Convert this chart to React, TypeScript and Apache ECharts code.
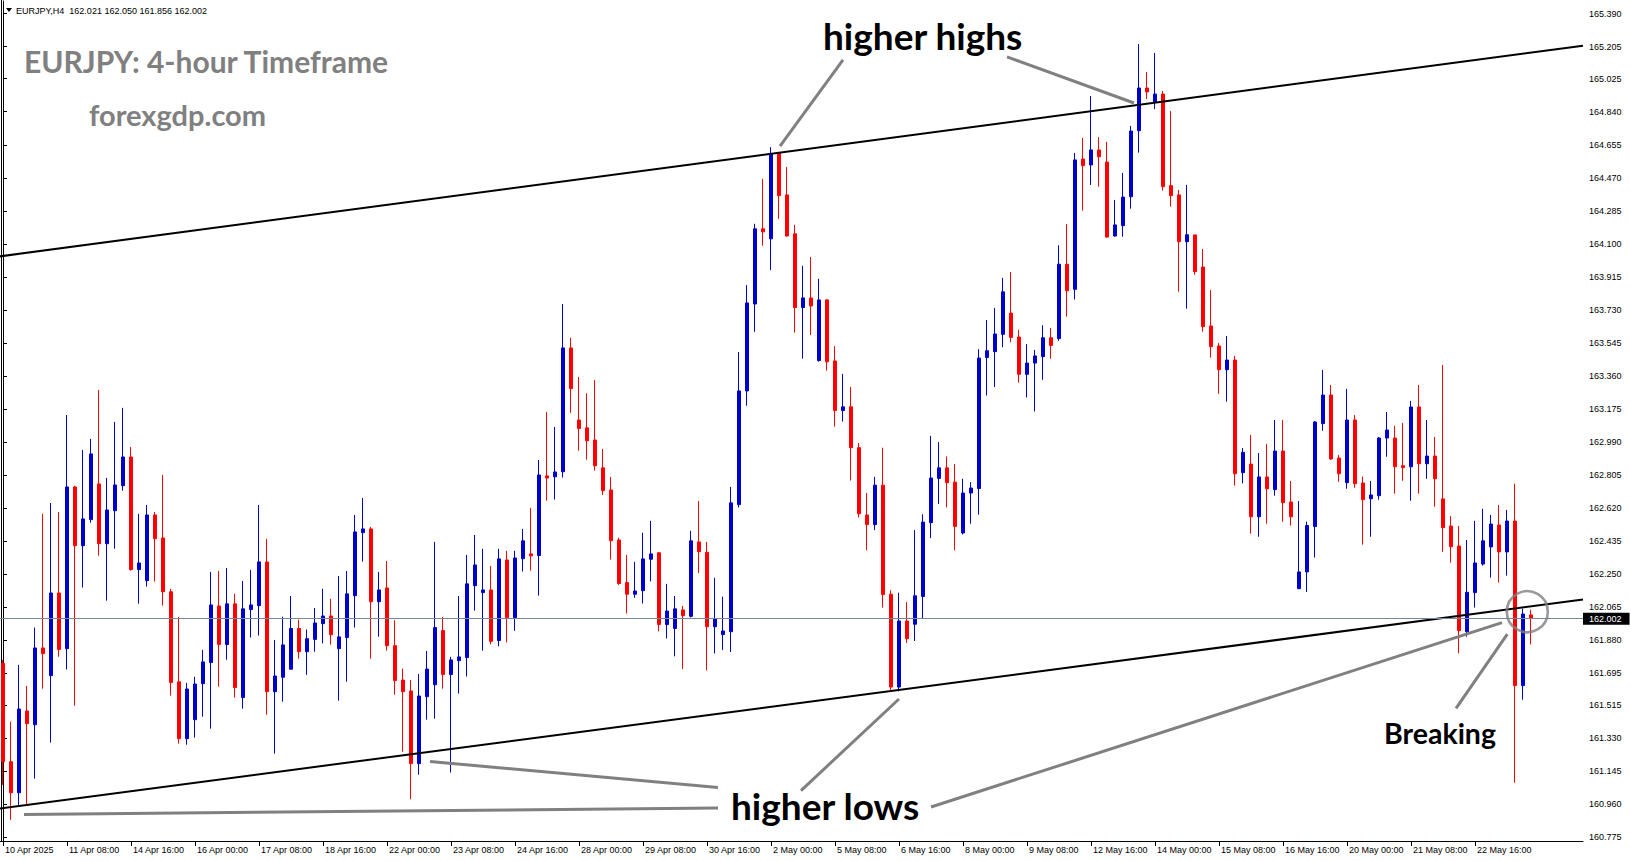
import React, { useEffect, useRef } from 'react';
import * as echarts from 'echarts';

// ---- tick labels ----
const timeLabels = [
  '10 Apr 2025', '11 Apr 08:00', '14 Apr 16:00', '16 Apr 00:00', '17 Apr 08:00', '18 Apr 16:00',
  '22 Apr 00:00', '23 Apr 08:00', '24 Apr 16:00', '28 Apr 00:00', '29 Apr 08:00', '30 Apr 16:00',
  '2 May 00:00', '5 May 08:00', '6 May 16:00', '8 May 00:00', '9 May 08:00', '12 May 16:00',
  '14 May 00:00', '15 May 08:00', '16 May 16:00', '20 May 00:00', '21 May 08:00', '22 May 16:00',
];
const priceTicks = [
  165.39, 165.205, 165.025, 164.84, 164.655, 164.47, 164.285, 164.1, 163.915, 163.73, 163.545,
  163.36, 163.175, 162.99, 162.805, 162.62, 162.435, 162.25, 162.065, 161.88, 161.695, 161.515,
  161.33, 161.145, 160.96, 160.775,
];
const yMin = 160.7545;
const yMax = 165.4604;
const slotCount = 198; // bars plus right shift
const barsPerLabel = 8;

// ---- candle values (EURJPY H4) ----
const opens = [
  161.750, 161.199, 161.025, 161.483, 161.406, 161.836, 161.681, 162.144, 161.832, 162.738,
  162.409, 162.555, 162.755, 162.420, 162.605, 162.745, 162.906, 162.275, 162.213, 162.581,
  162.452, 162.151, 161.646, 161.328, 161.434, 161.636, 161.754, 162.071, 161.855, 162.083,
  161.558, 162.051, 162.073, 162.318, 161.591, 161.672, 161.717, 161.945, 161.815, 161.884,
  161.972, 162.015, 161.832, 161.894, 162.129, 162.482, 162.503, 162.095, 162.172, 161.849,
  161.656, 161.595, 161.188, 161.563, 161.630, 161.934, 161.687, 161.765, 161.782, 162.185,
  162.146, 162.161, 161.878, 162.329, 162.006, 162.336, 162.363, 162.354, 162.800, 162.795,
  162.823, 163.517, 163.113, 163.069, 163.001, 162.845, 162.721, 162.441, 162.203, 162.137,
  162.157, 162.333, 162.369, 161.967, 161.945, 162.049, 162.013, 162.430, 162.372, 161.955,
  161.911, 161.927, 162.639, 163.276, 163.763, 164.184, 164.128, 164.608, 164.374, 164.156,
  163.743, 163.797, 163.446, 163.786, 163.444, 163.166, 163.187, 162.958, 162.581, 162.527,
  162.748, 162.137, 161.617, 161.987, 161.969, 162.124, 162.538, 162.786, 162.845, 162.765,
  162.480, 162.704, 162.729, 163.463, 163.496, 163.593, 163.712, 163.578, 163.369, 163.432,
  163.468, 163.574, 163.569, 163.986, 163.845, 164.575, 164.542, 164.626, 164.558, 164.144,
  164.202, 164.364, 164.734, 164.973, 164.895, 164.939, 164.426, 164.374, 164.112, 164.150,
  163.970, 163.640, 163.528, 163.395, 163.449, 162.818, 162.866, 162.571, 162.794, 162.723,
  162.939, 162.654, 162.168, 162.262, 162.516, 163.093, 163.253, 162.900, 162.762, 163.113,
  162.760, 162.672, 162.689, 163.012, 163.012, 162.857, 162.851, 163.186, 162.868, 162.911,
  162.671, 162.519, 162.407, 161.927, 162.146, 162.306, 162.402, 162.525, 162.374, 162.547,
  161.625, 162.021,
];
const highs = [
  161.769, 161.423, 161.741, 161.623, 161.950, 162.587, 162.648, 162.598, 163.141, 162.744,
  162.945, 163.007, 163.281, 162.788, 163.102, 163.181, 162.962, 162.587, 162.637, 162.598,
  162.805, 162.167, 162.010, 161.640, 161.674, 161.825, 162.262, 162.267, 162.284, 162.139,
  162.211, 162.273, 162.637, 162.447, 161.881, 162.011, 162.127, 161.995, 161.939, 162.060,
  162.167, 162.111, 162.239, 162.267, 162.581, 162.676, 162.514, 162.262, 162.323, 161.991,
  161.720, 161.656, 161.690, 161.819, 162.430, 162.010, 161.786, 162.127, 162.357, 162.469,
  162.391, 162.295, 162.391, 162.380, 162.380, 162.503, 162.620, 162.889, 163.158, 163.074,
  163.763, 163.573, 163.354, 163.263, 163.337, 162.951, 162.794, 162.453, 162.357, 162.318,
  162.481, 162.548, 162.374, 162.195, 162.127, 162.071, 162.492, 162.659, 162.430, 162.229,
  162.123, 162.738, 163.494, 163.869, 164.212, 164.464, 164.642, 164.614, 164.530, 164.206,
  163.977, 164.026, 163.904, 163.790, 163.527, 163.371, 163.298, 162.984, 162.704, 162.794,
  162.958, 162.159, 162.145, 162.093, 162.496, 162.585, 163.024, 162.989, 162.909, 162.866,
  162.784, 162.765, 163.510, 163.673, 163.741, 163.909, 163.942, 163.618, 163.538, 163.505,
  163.644, 163.628, 164.092, 164.210, 164.609, 164.693, 164.928, 164.698, 164.671, 164.346,
  164.497, 164.760, 165.219, 165.063, 165.169, 164.956, 164.844, 164.402, 164.430, 164.150,
  164.071, 163.841, 163.544, 163.584, 163.472, 162.956, 163.029, 162.928, 162.979, 163.113,
  163.113, 162.771, 162.659, 162.544, 163.107, 163.393, 163.309, 162.917, 163.287, 163.141,
  162.796, 162.771, 163.018, 163.158, 163.080, 163.096, 163.220, 163.309, 163.113, 163.018,
  163.421, 162.575, 162.519, 162.441, 162.548, 162.615, 162.581, 162.637, 162.609, 162.756,
  162.056, 162.050,
];
const lows = [
  161.069, 160.873, 160.947, 160.957, 161.104, 161.608, 161.306, 161.787, 161.715, 161.513,
  162.174, 162.538, 162.353, 162.101, 162.392, 162.717, 162.269, 162.084, 162.180, 162.208,
  162.073, 161.569, 161.300, 161.294, 161.334, 161.451, 161.384, 161.619, 161.770, 161.558,
  161.496, 161.894, 161.905, 161.462, 161.244, 161.535, 161.715, 161.776, 161.685, 161.815,
  161.862, 161.854, 161.541, 161.647, 161.950, 162.320, 161.776, 161.899, 161.821, 161.574,
  161.255, 160.989, 161.126, 161.434, 161.440, 161.608, 161.138, 161.580, 161.676, 162.045,
  161.821, 161.856, 161.845, 161.867, 161.932, 162.264, 162.269, 162.129, 162.661, 162.667,
  162.791, 163.153, 162.941, 162.891, 162.829, 162.693, 162.331, 162.189, 162.029, 162.117,
  162.085, 162.209, 161.929, 161.889, 161.789, 161.718, 162.007, 162.256, 161.710, 161.805,
  161.825, 161.813, 162.623, 163.193, 163.607, 164.089, 163.953, 164.240, 164.140, 163.603,
  163.457, 163.589, 163.440, 163.390, 163.076, 163.104, 162.774, 162.567, 162.383, 162.496,
  162.062, 161.600, 161.593, 161.864, 161.875, 162.001, 162.452, 162.643, 162.624, 162.383,
  162.472, 162.532, 162.583, 163.250, 163.298, 163.521, 163.548, 163.322, 163.239, 163.161,
  163.338, 163.456, 163.557, 163.692, 163.788, 164.286, 164.430, 164.420, 164.134, 164.140,
  164.140, 164.297, 164.611, 164.911, 164.855, 164.398, 164.308, 163.832, 163.737, 163.927,
  163.608, 163.462, 163.260, 163.216, 162.745, 162.758, 162.476, 162.459, 162.532, 162.689,
  162.543, 162.521, 162.168, 162.150, 162.342, 163.053, 162.889, 162.767, 162.728, 162.734,
  162.415, 162.459, 162.667, 162.907, 162.700, 162.773, 162.661, 162.700, 162.784, 162.627,
  162.375, 162.314, 161.806, 161.899, 162.062, 162.297, 162.230, 162.202, 162.241, 161.081,
  161.546, 161.856,
];
const closes = [
  161.199, 161.025, 161.494, 161.412, 161.836, 161.804, 162.144, 161.827, 162.738, 162.409,
  162.559, 162.923, 162.420, 162.609, 162.749, 162.906, 162.275, 162.312, 162.581, 162.448,
  162.151, 161.642, 161.328, 161.606, 161.634, 161.758, 162.077, 161.855, 162.083, 161.614,
  162.055, 162.077, 162.318, 161.591, 161.679, 161.853, 161.945, 161.815, 161.888, 161.976,
  162.015, 161.910, 161.898, 162.139, 162.486, 162.503, 162.095, 162.161, 161.849, 161.653,
  161.591, 161.188, 161.567, 161.718, 161.950, 161.687, 161.769, 161.786, 162.195, 162.301,
  162.161, 161.873, 162.335, 162.006, 162.340, 162.436, 162.352, 162.805, 162.788, 162.822,
  163.517, 163.289, 163.065, 162.997, 162.857, 162.717, 162.437, 162.197, 162.137, 162.155,
  162.335, 162.363, 161.967, 162.043, 162.055, 162.017, 162.436, 162.375, 161.955, 161.999,
  161.931, 162.649, 163.276, 163.769, 164.184, 164.167, 164.600, 164.370, 164.144, 163.743,
  163.797, 163.752, 163.786, 163.439, 163.166, 163.187, 162.958, 162.588, 162.527, 162.748,
  162.135, 161.617, 161.987, 161.888, 162.128, 162.541, 162.788, 162.845, 162.762, 162.517,
  162.704, 162.732, 163.460, 163.501, 163.595, 163.831, 163.576, 163.369, 163.432, 163.472,
  163.574, 163.531, 163.986, 163.837, 164.570, 164.538, 164.626, 164.588, 164.138, 164.206,
  164.362, 164.732, 164.973, 164.951, 164.939, 164.420, 164.370, 164.112, 164.151, 163.944,
  163.636, 163.524, 163.395, 163.449, 162.812, 162.932, 162.571, 162.794, 162.728, 162.939,
  162.650, 162.571, 162.262, 162.522, 163.102, 163.253, 162.895, 162.812, 163.113, 162.756,
  162.667, 162.693, 163.012, 163.057, 162.851, 162.846, 163.186, 162.868, 162.911, 162.784,
  162.510, 162.403, 161.933, 162.148, 162.312, 162.436, 162.530, 162.374, 162.547, 161.625,
  162.026, 162.002,
];
const lastPrice = 162.002;
const headerText = 'EURJPY,H4  162.021 162.050 161.856 162.002';

// ---- drawn annotations: [bar index, price] ----
const channelUpper = [[-0.5, 164.029], [197.5, 165.21]];
const channelLower = [[-0.5, 160.936], [197.5, 162.107]];
const pointerLines = [
  [[105, 165.13], [97.125, 164.648]],
  [[125.5, 165.147], [141.375, 164.889]],
  [[2.625, 160.903], [89.375, 160.939]],
  [[53.375, 161.2], [89.375, 161.054]],
  [[99.75, 161.037], [112, 161.55]],
  [[116, 160.945], [187.375, 161.978]],
  [[181.625, 161.498], [188.04, 161.914]],
];
const breakCircle = [190.54, 162.039];

const BULL = '#0000cd';
const BEAR = '#ff0000';
const GRAY = '#808080';
const AXIS_FONT = '"Liberation Sans", Arial, sans-serif';
const NOTE_FONT = 'Lato, "Open Sans", sans-serif';

export default function App() {
  const ref = useRef<HTMLDivElement>(null);

  useEffect(() => {
    document.body.style.margin = '0';
    if (!ref.current) return;
    const chart = echarts.init(ref.current, undefined, { renderer: 'svg' });

    const categories = Array.from({ length: slotCount }, (_, i) =>
      i % barsPerLabel === 0 && i / barsPerLabel < timeLabels.length ? timeLabels[i / barsPerLabel] : ''
    );
    const candles = opens.map((o, i) => [o, closes[i], lows[i], highs[i]]);
    const showTick = (i: number) => i % barsPerLabel === 0 && i / barsPerLabel < timeLabels.length;

    chart.setOption({
      animation: false,
      backgroundColor: '#ffffff',
      grid: { left: -1, right: 48, top: 1, bottom: 20, containLabel: false, outerBoundsMode: 'none' },
      xAxis: [
        {
          type: 'category',
          data: categories,
          boundaryGap: true,
          axisLine: { show: true, lineStyle: { color: '#000', width: 1 } },
          axisTick: { show: true, alignWithLabel: true, interval: showTick, length: 5, lineStyle: { color: '#000' } },
          axisLabel: {
            show: true,
            interval: showTick,
            align: 'left',
            padding: [0, 0, 0, 2],
            margin: 4,
            fontSize: 9,
            fontFamily: AXIS_FONT,
            color: '#000',
          },
          splitLine: { show: false },
        },
        { type: 'value', min: -0.5, max: slotCount - 0.5, show: false },
      ],
      yAxis: {
        type: 'value',
        position: 'right',
        min: yMin,
        max: yMax,
        scale: true,
        axisLine: { show: true, lineStyle: { color: '#000', width: 1 } },
        axisTick: { show: true, length: 4, customValues: priceTicks, lineStyle: { color: '#000' } },
        axisLabel: {
          show: true,
          customValues: priceTicks,
          formatter: (v: number) => v.toFixed(3),
          margin: 6,
          fontSize: 9,
          fontFamily: AXIS_FONT,
          color: '#000',
        },
        splitLine: { show: false },
      },
      series: [
        {
          type: 'candlestick',
          xAxisIndex: 0,
          yAxisIndex: 0,
          data: candles,
          barWidth: 4,
          itemStyle: { color: BULL, color0: BEAR, borderColor: BULL, borderColor0: BEAR, borderWidth: 1 },
          markLine: {
            silent: true,
            symbol: ['none', 'none'],
            lineStyle: { color: '#778899', width: 1, type: 'solid' },
            label: {
              show: true,
              position: 'end',
              distance: 0,
              formatter: () => lastPrice.toFixed(3),
              color: '#fff',
              backgroundColor: '#000',
              padding: [2, 8, 1, 6],
              fontSize: 9,
              fontFamily: AXIS_FONT,
            },
            data: [{ yAxis: lastPrice }],
          },
        },
        {
          type: 'lines',
          coordinateSystem: 'cartesian2d',
          xAxisIndex: 1,
          yAxisIndex: 0,
          silent: true,
          polyline: false,
          lineStyle: { color: '#000', width: 2, opacity: 1, curveness: 0 },
          data: [{ coords: channelUpper }, { coords: channelLower }],
          z: 3,
        },
        {
          type: 'lines',
          coordinateSystem: 'cartesian2d',
          xAxisIndex: 1,
          yAxisIndex: 0,
          silent: true,
          polyline: false,
          lineStyle: { color: GRAY, width: 3, opacity: 1, curveness: 0 },
          data: pointerLines.map((c) => ({ coords: c })),
          z: 4,
        },
        {
          type: 'scatter',
          xAxisIndex: 1,
          yAxisIndex: 0,
          silent: true,
          clip: false,
          symbol: 'circle',
          symbolSize: 41,
          itemStyle: { color: 'rgba(0,0,0,0)', borderColor: GRAY, borderWidth: 2.6 },
          data: [breakCircle],
          z: 5,
        },
      ],
      graphic: [
        { type: 'line', shape: { x1: 1.5, y1: 0, x2: 1.5, y2: 841 }, style: { stroke: '#000', lineWidth: 1 }, silent: true },
        { type: 'polygon', shape: { points: [[6, 8], [12, 8], [9, 12]] }, style: { fill: '#000' }, silent: true },
        {
          type: 'text', x: 16, y: 10.5, silent: true,
          style: { text: headerText, fill: '#000', fontSize: 9, fontFamily: AXIS_FONT, align: 'left', verticalAlign: 'middle' },
        },
        {
          type: 'text', x: 24, y: 61, silent: true,
          style: { text: 'EURJPY: 4-hour Timeframe', fill: GRAY, fontSize: 30, fontWeight: 'bold', fontFamily: NOTE_FONT, align: 'left', verticalAlign: 'middle' },
        },
        {
          type: 'text', x: 89, y: 114, silent: true,
          style: { text: 'forexgdp.com', fill: GRAY, fontSize: 29, fontWeight: 'bold', fontFamily: NOTE_FONT, align: 'left', verticalAlign: 'middle' },
        },
        {
          type: 'text', x: 823, y: 35, silent: true,
          style: { text: 'higher highs', fill: '#000', fontSize: 37, fontWeight: 'bold', fontFamily: NOTE_FONT, align: 'left', verticalAlign: 'middle' },
        },
        {
          type: 'text', x: 731, y: 805, silent: true,
          style: { text: 'higher lows', fill: '#000', fontSize: 37, fontWeight: 'bold', fontFamily: NOTE_FONT, align: 'left', verticalAlign: 'middle' },
        },
        {
          type: 'text', x: 1384, y: 733, silent: true,
          style: { text: 'Breaking', fill: '#000', fontSize: 28.5, fontWeight: 'bold', fontFamily: NOTE_FONT, align: 'left', verticalAlign: 'middle' },
        },
      ],
    });

    return () => {
      chart.dispose();
    };
  }, []);

  return (
    <div
      ref={ref}
      style={{ position: 'fixed', left: 0, top: 0, width: 1631, height: 861, background: '#fff' }}
    />
  );
}
